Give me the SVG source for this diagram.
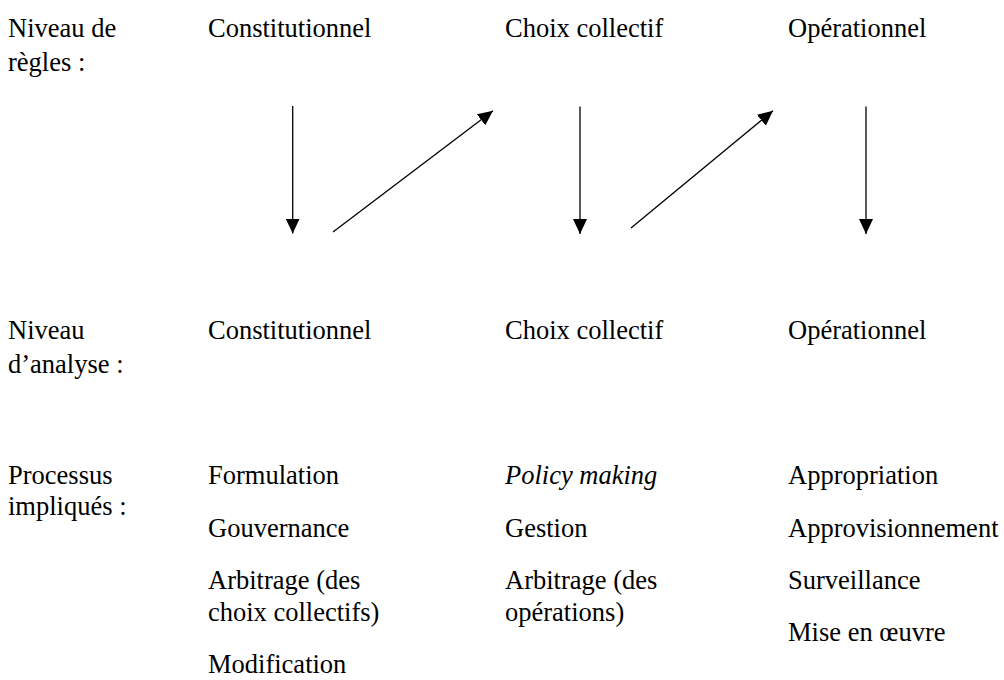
<svg xmlns="http://www.w3.org/2000/svg" width="1004" height="680" viewBox="0 0 1004 680">
<style>
text{font-family:"Liberation Serif","Times New Roman",Times,serif;font-size:26.5px;fill:#000}
.it{font-style:italic}
.c{stroke:#000;stroke-width:1.3;fill:none;marker-end:url(#ah)}
</style>
<defs>
<marker id="ah" markerWidth="15" markerHeight="14" refX="15" refY="7" orient="auto" markerUnits="userSpaceOnUse">
<path d="M0,0 L15,7 L0,14 z" fill="#000"/>
</marker>
</defs>
<rect width="1004" height="680" fill="#fff"/>
<g id="label-regles"><text x="8" y="37">Niveau de</text><text x="8" y="71">règles :</text></g>
<g id="regles-constitutionnel"><text x="208" y="37">Constitutionnel</text></g>
<g id="regles-choix"><text x="505" y="37">Choix collectif</text></g>
<g id="regles-operationnel"><text x="788" y="37">Opérationnel</text></g>
<g id="label-analyse"><text x="8" y="339">Niveau</text><text x="8" y="373">d’analyse :</text></g>
<g id="analyse-constitutionnel"><text x="208" y="339">Constitutionnel</text></g>
<g id="analyse-choix"><text x="505" y="339">Choix collectif</text></g>
<g id="analyse-operationnel"><text x="788" y="339">Opérationnel</text></g>
<g id="label-processus"><text x="8" y="484">Processus</text><text x="8" y="515">impliqués :</text></g>
<g id="processus-constitutionnel">
<text x="208" y="484">Formulation</text>
<text x="208" y="537">Gouvernance</text>
<text x="208" y="589">Arbitrage (des</text>
<text x="208" y="620.5">choix collectifs)</text>
<text x="208" y="673">Modification</text>
</g>
<g id="processus-choix">
<text x="505" y="484" class="it">Policy making</text>
<text x="505" y="537">Gestion</text>
<text x="505" y="589">Arbitrage (des</text>
<text x="505" y="620.5">opérations)</text>
</g>
<g id="processus-operationnel">
<text x="788" y="484">Appropriation</text>
<text x="788" y="537">Approvisionnement</text>
<text x="788" y="589">Surveillance</text>
<text x="788" y="641">Mise en œuvre</text>
</g>
<g id="connectors">
<line class="c" x1="292.7" y1="106" x2="292.7" y2="233.5"/>
<line class="c" x1="333" y1="232" x2="493" y2="110.7"/>
<line class="c" x1="580" y1="106.5" x2="580" y2="234"/>
<line class="c" x1="631" y1="228" x2="773" y2="110.7"/>
<line class="c" x1="866" y1="106.5" x2="866" y2="234"/>
</g>
</svg>
